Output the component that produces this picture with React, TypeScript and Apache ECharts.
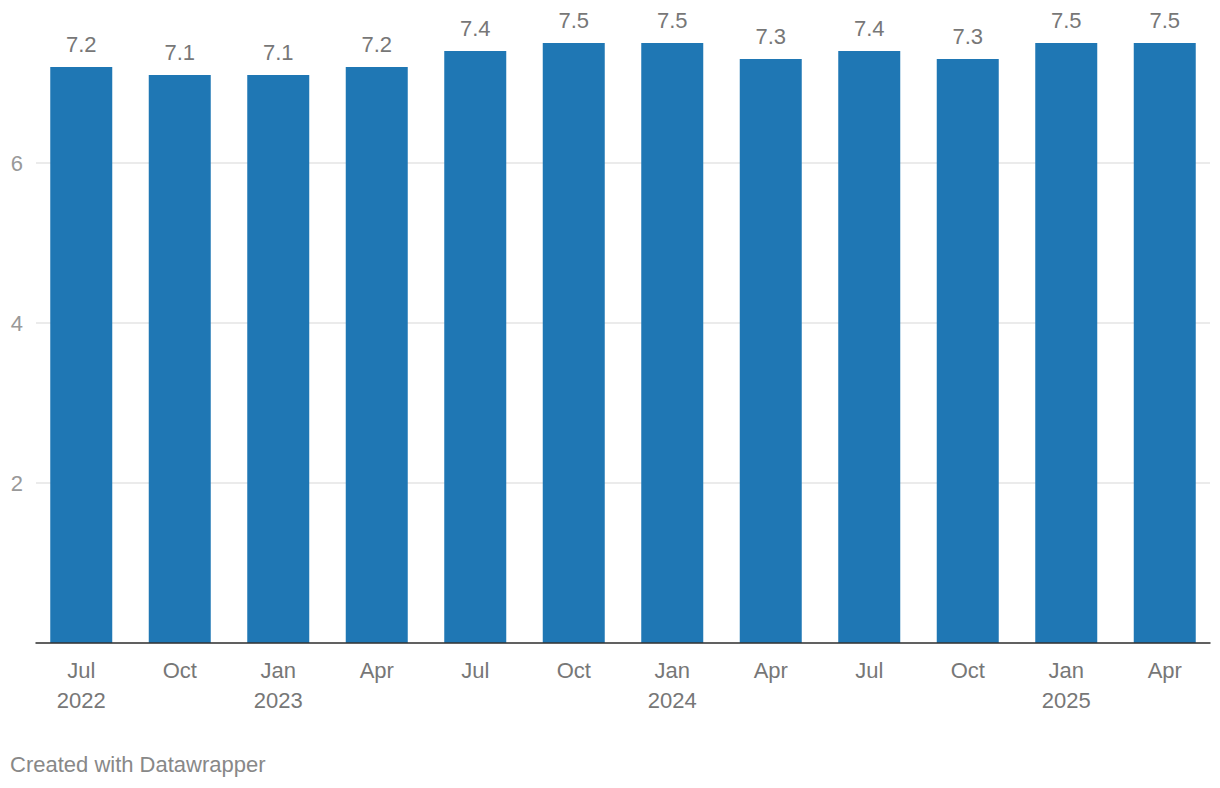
import React, { useEffect, useRef } from "react";
import * as echarts from "echarts";

const categories = ["Jul\n2022", "Oct", "Jan\n2023", "Apr", "Jul", "Oct", "Jan\n2024", "Apr", "Jul", "Oct", "Jan\n2025", "Apr"];
const values = [7.2, 7.1, 7.1, 7.2, 7.4, 7.5, 7.5, 7.3, 7.4, 7.3, 7.5, 7.5];
const yTicks = [0, 2, 4, 6];

const FONT = "'Liberation Sans', Arial, Helvetica, sans-serif";

export default function App() {
  const ref = useRef<HTMLDivElement>(null);
  useEffect(() => {
    if (!ref.current) return;
    const chart = echarts.init(ref.current, undefined, { renderer: "svg" });
    chart.setOption({
      animation: false,
      backgroundColor: "#ffffff",
      textStyle: { fontFamily: FONT },
      grid: [
        { left: 36, right: 10, top: 163, bottom: 145 },
        { left: 32, right: 6, top: 3, bottom: 145 },
      ],
      xAxis: [
        {
          type: "value",
          gridIndex: 0,
          min: 0,
          max: 1,
          axisLine: { show: true, lineStyle: { color: "#333333", width: 1.5 } },
          axisTick: { show: false },
          axisLabel: { show: false },
          splitLine: { show: false },
          z: 5,
        },
        {
          type: "category",
          gridIndex: 1,
          data: categories,
          axisLine: { show: false },
          axisTick: { show: false },
          axisLabel: {
            color: "#777777",
            fontSize: 22,
            lineHeight: 30,
            margin: 12,
            fontFamily: FONT,
            interval: 0,
          },
        },
      ],
      yAxis: [
        {
          type: "value",
          gridIndex: 0,
          min: 0,
          max: 6,
          interval: 2,
          axisLine: { show: false },
          axisTick: { show: false },
          axisLabel: {
            color: "#999999",
            fontSize: 22,
            margin: 13,
            fontFamily: FONT,
            formatter: (v: number) => (yTicks.includes(v) && v !== 0 ? String(v) : ""),
          },
          splitLine: { show: true, lineStyle: { color: "#e5e5e5", width: 1.5 } },
        },
        {
          type: "value",
          gridIndex: 1,
          min: 0,
          max: 8,
          show: false,
          splitLine: { show: false },
        },
      ],
      series: [
        {
          type: "bar",
          xAxisIndex: 1,
          yAxisIndex: 1,
          data: values,
          barWidth: 62,
          itemStyle: { color: "#1f77b4" },
          label: {
            show: true,
            position: "top",
            distance: 12,
            color: "#777777",
            fontSize: 22,
            fontFamily: FONT,
            formatter: (p: any) => p.value.toFixed(1),
          },
          z: 3,
        },
      ],
      graphic: [
        {
          type: "text",
          left: 10,
          top: 753,
          style: {
            text: "Created with Datawrapper",
            fill: "#888888",
            fontSize: 22,
            fontFamily: FONT,
          },
        },
      ],
    });
    return () => chart.dispose();
  }, []);
  return (
    <div
      ref={ref}
      style={{ position: "absolute", left: 0, top: 0, width: 1220, height: 788 }}
    />
  );
}
